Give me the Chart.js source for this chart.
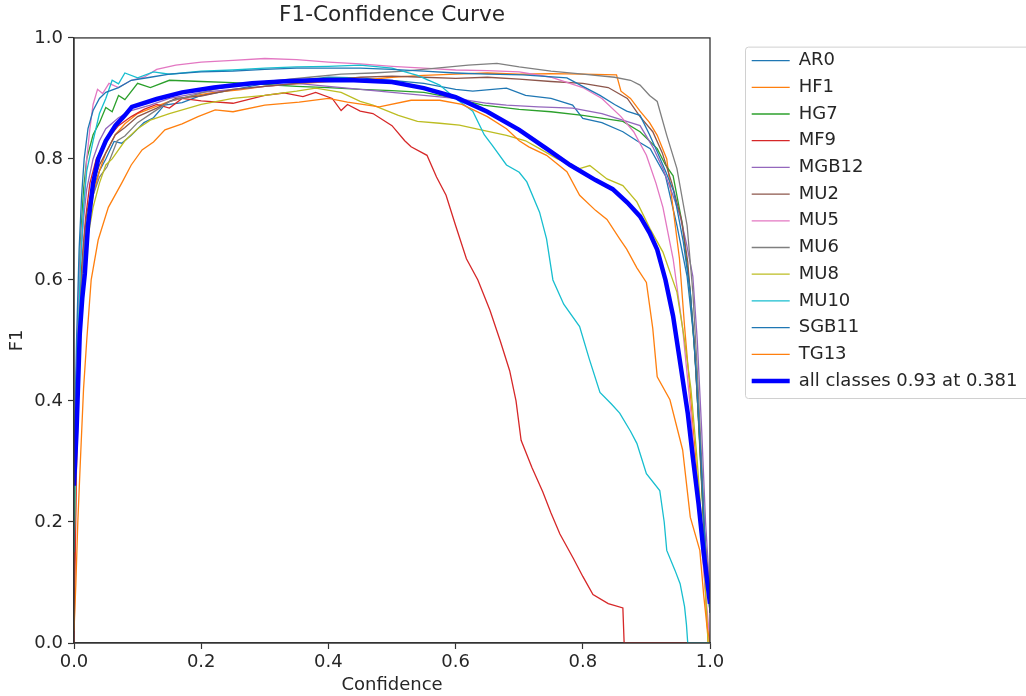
<!DOCTYPE html>
<html>
<head>
<meta charset="utf-8">
<script src="https://cdn.jsdelivr.net/npm/chart.js@4.4.1/dist/chart.umd.min.js"></script>
<style>
  html, body { margin: 0; padding: 0; background: #fff; }
</style>
</head>
<body>
<canvas id="chart" width="1026" height="696"></canvas>
<script>
// values, [confidence, f1]
const classNames = ['AR0', 'HF1', 'HG7', 'MF9', 'MGB12', 'MU2', 'MU5', 'MU6', 'MU8', 'MU10', 'SGB11', 'TG13'];
const allLabel = 'all classes 0.93 at 0.381';
const axisTicks = [0, 0.2, 0.4, 0.6, 0.8, 1.0];

const ar0 = [[0,0.25],[0.005,0.45],[0.01,0.57],[0.015,0.64],[0.02,0.69],[0.03,0.75],[0.04,0.78],[0.05,0.8],[0.063,0.829],[0.075,0.826],[0.09,0.839],[0.11,0.86],[0.125,0.868],[0.142,0.889],[0.17,0.893],[0.2,0.905],[0.25,0.914],[0.3,0.925],[0.35,0.93],[0.4,0.935],[0.45,0.934],[0.5,0.93],[0.55,0.925],[0.6,0.915],[0.627,0.912],[0.68,0.917],[0.71,0.905],[0.75,0.9],[0.784,0.889],[0.8,0.867],[0.83,0.86],[0.863,0.845],[0.885,0.83],[0.906,0.817],[0.93,0.772],[0.948,0.69],[0.964,0.606],[0.975,0.5],[0.983,0.35],[0.99,0.2],[1.0,0.06]];
const hf1 = [[0,0.1],[0.005,0.35],[0.01,0.5],[0.015,0.6],[0.02,0.67],[0.03,0.74],[0.04,0.78],[0.05,0.81],[0.065,0.84],[0.08,0.858],[0.1,0.875],[0.12,0.883],[0.15,0.895],[0.18,0.903],[0.22,0.91],[0.26,0.914],[0.3,0.92],[0.35,0.924],[0.4,0.928],[0.45,0.93],[0.5,0.935],[0.55,0.938],[0.6,0.94],[0.65,0.942],[0.7,0.94],[0.75,0.941],[0.8,0.94],[0.853,0.939],[0.86,0.912],[0.875,0.9],[0.89,0.879],[0.905,0.86],[0.917,0.839],[0.932,0.8],[0.942,0.718],[0.952,0.635],[0.96,0.523],[0.97,0.4],[0.978,0.3],[0.985,0.2],[0.992,0.1],[0.997,0.0],[1.0,0.0]];
const hg7 = [[0,0.2],[0.005,0.5],[0.01,0.66],[0.015,0.75],[0.02,0.8],[0.03,0.84],[0.04,0.86],[0.05,0.885],[0.06,0.878],[0.07,0.905],[0.08,0.898],[0.1,0.925],[0.12,0.918],[0.15,0.93],[0.2,0.928],[0.25,0.926],[0.3,0.923],[0.35,0.92],[0.4,0.918],[0.45,0.915],[0.5,0.913],[0.55,0.91],[0.6,0.9],[0.643,0.889],[0.7,0.882],[0.75,0.878],[0.8,0.872],[0.863,0.862],[0.89,0.845],[0.917,0.817],[0.93,0.79],[0.942,0.772],[0.957,0.69],[0.969,0.58],[0.978,0.45],[0.985,0.3],[0.992,0.15],[1.0,0.05]];
const mf9 = [[0,0.0],[0.004,0.3],[0.008,0.5],[0.012,0.62],[0.018,0.7],[0.025,0.76],[0.035,0.8],[0.05,0.83],[0.07,0.855],[0.09,0.87],[0.11,0.882],[0.13,0.89],[0.15,0.884],[0.17,0.9],[0.2,0.896],[0.25,0.892],[0.3,0.905],[0.33,0.909],[0.36,0.903],[0.38,0.91],[0.406,0.9],[0.42,0.88],[0.43,0.89],[0.45,0.879],[0.47,0.875],[0.5,0.855],[0.52,0.83],[0.53,0.82],[0.555,0.806],[0.57,0.77],[0.585,0.74],[0.6,0.69],[0.617,0.635],[0.635,0.6],[0.654,0.55],[0.67,0.5],[0.685,0.45],[0.695,0.4],[0.703,0.335],[0.72,0.29],[0.737,0.25],[0.75,0.215],[0.764,0.18],[0.785,0.14],[0.8,0.11],[0.816,0.08],[0.84,0.065],[0.863,0.058],[0.865,0.0],[1.0,0.0]];
const mgb12 = [[0,0.25],[0.005,0.5],[0.01,0.63],[0.015,0.7],[0.02,0.75],[0.03,0.8],[0.04,0.83],[0.05,0.85],[0.07,0.868],[0.09,0.88],[0.12,0.889],[0.15,0.9],[0.2,0.91],[0.25,0.915],[0.3,0.92],[0.35,0.925],[0.4,0.92],[0.45,0.915],[0.5,0.91],[0.55,0.905],[0.6,0.9],[0.65,0.892],[0.68,0.889],[0.73,0.886],[0.784,0.884],[0.83,0.875],[0.869,0.862],[0.89,0.855],[0.91,0.82],[0.926,0.784],[0.94,0.745],[0.953,0.706],[0.963,0.66],[0.973,0.606],[0.98,0.5],[0.987,0.35],[0.993,0.2],[1.0,0.08]];
const mu2 = [[0,0.22],[0.005,0.45],[0.01,0.58],[0.015,0.66],[0.02,0.71],[0.03,0.76],[0.04,0.79],[0.05,0.81],[0.065,0.84],[0.08,0.852],[0.1,0.87],[0.13,0.884],[0.16,0.9],[0.2,0.904],[0.25,0.915],[0.3,0.92],[0.35,0.925],[0.4,0.93],[0.45,0.935],[0.5,0.937],[0.55,0.935],[0.6,0.933],[0.65,0.935],[0.7,0.932],[0.75,0.928],[0.8,0.925],[0.84,0.918],[0.87,0.9],[0.89,0.87],[0.91,0.845],[0.925,0.81],[0.94,0.76],[0.955,0.7],[0.965,0.63],[0.975,0.5],[0.983,0.35],[0.99,0.2],[1.0,0.07]];
const mu5 = [[0,0.2],[0.004,0.45],[0.008,0.6],[0.012,0.68],[0.016,0.73],[0.02,0.8],[0.025,0.85],[0.03,0.89],[0.037,0.915],[0.045,0.908],[0.055,0.925],[0.07,0.918],[0.09,0.93],[0.11,0.935],[0.13,0.948],[0.16,0.955],[0.2,0.96],[0.25,0.963],[0.3,0.966],[0.35,0.964],[0.4,0.96],[0.45,0.957],[0.5,0.953],[0.55,0.95],[0.6,0.947],[0.65,0.946],[0.7,0.944],[0.75,0.935],[0.8,0.918],[0.83,0.9],[0.86,0.87],[0.88,0.845],[0.9,0.806],[0.915,0.76],[0.926,0.72],[0.942,0.635],[0.957,0.52],[0.97,0.38],[0.98,0.25],[0.99,0.12],[1.0,0.0]];
const mu6 = [[0,0.2],[0.005,0.42],[0.01,0.56],[0.015,0.64],[0.02,0.69],[0.03,0.74],[0.04,0.77],[0.052,0.787],[0.068,0.83],[0.08,0.838],[0.1,0.86],[0.12,0.874],[0.15,0.895],[0.18,0.903],[0.22,0.915],[0.27,0.925],[0.32,0.93],[0.37,0.935],[0.42,0.94],[0.47,0.942],[0.52,0.945],[0.57,0.95],[0.62,0.955],[0.665,0.958],[0.7,0.952],[0.75,0.945],[0.8,0.94],[0.85,0.935],[0.875,0.93],[0.89,0.922],[0.905,0.905],[0.917,0.895],[0.932,0.839],[0.948,0.784],[0.964,0.69],[0.973,0.58],[0.98,0.45],[0.987,0.3],[0.993,0.15],[1.0,0.05]];
const mu8 = [[0,0.15],[0.005,0.38],[0.01,0.52],[0.015,0.6],[0.02,0.66],[0.03,0.72],[0.04,0.76],[0.05,0.79],[0.06,0.8],[0.08,0.83],[0.1,0.85],[0.12,0.864],[0.15,0.875],[0.2,0.89],[0.25,0.9],[0.3,0.905],[0.35,0.912],[0.38,0.917],[0.42,0.91],[0.45,0.895],[0.47,0.889],[0.51,0.872],[0.54,0.862],[0.575,0.859],[0.606,0.856],[0.64,0.848],[0.68,0.839],[0.71,0.83],[0.732,0.817],[0.76,0.8],[0.795,0.784],[0.811,0.789],[0.838,0.767],[0.863,0.756],[0.885,0.729],[0.906,0.684],[0.926,0.646],[0.948,0.58],[0.96,0.5],[0.97,0.42],[0.98,0.3],[0.99,0.15],[0.997,0.0],[1.0,0.0]];
const mu10 = [[0,0.15],[0.005,0.45],[0.01,0.62],[0.015,0.72],[0.02,0.78],[0.03,0.83],[0.04,0.875],[0.05,0.9],[0.06,0.93],[0.07,0.924],[0.08,0.942],[0.1,0.934],[0.125,0.944],[0.15,0.94],[0.2,0.945],[0.25,0.947],[0.3,0.95],[0.35,0.952],[0.4,0.953],[0.45,0.955],[0.5,0.95],[0.54,0.938],[0.575,0.922],[0.6,0.9],[0.627,0.879],[0.645,0.84],[0.658,0.822],[0.68,0.79],[0.7,0.778],[0.712,0.762],[0.732,0.712],[0.743,0.668],[0.753,0.6],[0.77,0.56],[0.795,0.523],[0.81,0.47],[0.827,0.414],[0.845,0.395],[0.858,0.38],[0.875,0.35],[0.885,0.33],[0.9,0.28],[0.921,0.252],[0.928,0.2],[0.932,0.153],[0.945,0.12],[0.953,0.098],[0.96,0.06],[0.963,0.03],[0.965,0.0],[1.0,0.0]];
const sgb11 = [[0,0.3],[0.004,0.5],[0.008,0.65],[0.012,0.74],[0.016,0.8],[0.022,0.85],[0.03,0.88],[0.04,0.9],[0.05,0.91],[0.07,0.918],[0.09,0.93],[0.12,0.935],[0.15,0.94],[0.2,0.944],[0.25,0.945],[0.3,0.948],[0.35,0.95],[0.4,0.95],[0.45,0.95],[0.5,0.948],[0.55,0.945],[0.6,0.942],[0.65,0.94],[0.706,0.939],[0.775,0.934],[0.8,0.92],[0.827,0.905],[0.85,0.89],[0.869,0.879],[0.89,0.872],[0.905,0.84],[0.917,0.812],[0.93,0.78],[0.943,0.746],[0.958,0.663],[0.969,0.58],[0.978,0.45],[0.986,0.3],[0.993,0.15],[1.0,0.05]];
const tg13 = [[0,0.02],[0.003,0.1],[0.006,0.2],[0.01,0.3],[0.015,0.42],[0.02,0.5],[0.027,0.6],[0.038,0.666],[0.054,0.72],[0.075,0.76],[0.09,0.79],[0.107,0.815],[0.125,0.828],[0.143,0.848],[0.17,0.858],[0.195,0.87],[0.222,0.881],[0.25,0.878],[0.3,0.889],[0.354,0.894],[0.4,0.9],[0.43,0.894],[0.48,0.886],[0.53,0.897],[0.575,0.897],[0.61,0.89],[0.65,0.87],[0.68,0.85],[0.7,0.83],[0.715,0.82],[0.743,0.806],[0.775,0.779],[0.795,0.74],[0.82,0.715],[0.838,0.7],[0.858,0.668],[0.869,0.651],[0.885,0.62],[0.9,0.596],[0.91,0.52],[0.917,0.44],[0.937,0.402],[0.957,0.319],[0.969,0.208],[0.984,0.153],[0.99,0.08],[0.995,0.03],[1.0,0.0]];
const allClasses = [[0,0.26],[0.004,0.35],[0.009,0.51],[0.013,0.57],[0.017,0.61],[0.022,0.69],[0.03,0.76],[0.038,0.8],[0.05,0.83],[0.065,0.855],[0.08,0.872],[0.091,0.886],[0.13,0.899],[0.17,0.91],[0.22,0.918],[0.28,0.925],[0.34,0.929],[0.381,0.93],[0.44,0.93],[0.5,0.927],[0.55,0.917],[0.6,0.902],[0.65,0.878],[0.7,0.848],[0.743,0.817],[0.78,0.79],[0.82,0.765],[0.847,0.75],[0.87,0.728],[0.89,0.705],[0.905,0.678],[0.917,0.65],[0.93,0.6],[0.942,0.54],[0.955,0.45],[0.965,0.38],[0.973,0.307],[0.982,0.23],[0.99,0.15],[1.0,0.065]];

const classCurves = [ar0, hf1, hg7, mf9, mgb12, mu2, mu5, mu6, mu8, mu10, sgb11, tg13];
const classColors = ['#1f77b4', '#ff7f0e', '#2ca02c', '#d62728', '#9467bd', '#8c564b',
                     '#e377c2', '#7f7f7f', '#bcbd22', '#17becf', '#1f77b4', '#ff7f0e'];
const textColor = '#262626';
const frameColor = '#333333';

Chart.defaults.font.family = "'DejaVu Sans', sans-serif";
Chart.defaults.color = textColor;

const toPoints = pts => pts.map(([x, y]) => ({ x: x, y: y }));

const datasets = classCurves.map((pts, i) => ({
    label: classNames[i],
    data: toPoints(pts),
    borderColor: classColors[i],
    backgroundColor: classColors[i],
    borderWidth: 1.3,
    pointRadius: 0,
    order: classNames.length - i   // later classes on top, like matplotlib
}));
datasets.push({
    label: allLabel,
    data: toPoints(allClasses),
    borderColor: '#0000ff',
    backgroundColor: '#0000ff',
    borderWidth: 4.5,
    pointRadius: 0,
    order: 0
});

// box around the plot and the legend frame
const framePlugin = {
    id: 'frames',
    beforeDraw(chart) {
        const lg = chart.legend;
        if (!lg || !lg.legendHitBoxes || !lg.legendHitBoxes.length) return;
        const hb = lg.legendHitBoxes;
        const ctx = chart.ctx;
        const top = hb[0].top - 5;
        const bottom = hb[hb.length - 1].top + hb[hb.length - 1].height + 8;
        ctx.save();
        ctx.fillStyle = '#ffffff';
        ctx.strokeStyle = '#d0d0d0';
        ctx.lineWidth = 1;
        ctx.beginPath();
        ctx.roundRect(lg.left + 2.5, top + 0.5, 400, bottom - top, 3);
        ctx.fill();
        ctx.stroke();
        ctx.restore();
    },
    afterDatasetsDraw(chart) {
        const a = chart.chartArea;
        const ctx = chart.ctx;
        ctx.save();
        ctx.strokeStyle = frameColor;
        ctx.lineWidth = 1.3;
        ctx.strokeRect(a.left, a.top, a.right - a.left, a.bottom - a.top);
        ctx.restore();
    }
};

const tickOpts = {
    font: { size: 18 },
    color: textColor,
    callback: v => Number(v).toFixed(1)
};
const setTicks = scale => { scale.ticks = axisTicks.map(v => ({ value: v })); };

new Chart(document.getElementById('chart'), {
    type: 'scatter',
    data: { datasets: datasets },
    options: {
        responsive: false,
        animation: false,
        showLine: true,
        layout: { padding: 0 },
        elements: { line: { tension: 0 } },
        scales: {
            x: {
                type: 'linear', min: 0, max: 1,
                afterBuildTicks: setTicks,
                afterFit: s => { s.height = 53; },
                ticks: Object.assign({ padding: 3, maxRotation: 0 }, tickOpts),
                grid: { drawOnChartArea: false, tickLength: 6, tickColor: frameColor, tickWidth: 1.2 },
                border: { display: true, color: frameColor, width: 1.3 },
                title: { display: true, text: 'Confidence', font: { size: 18 }, color: textColor, padding: { top: 0, bottom: 0 } }
            },
            y: {
                type: 'linear', min: 0, max: 1,
                afterBuildTicks: setTicks,
                afterFit: s => { s.width = 74; },
                ticks: Object.assign({ padding: 5 }, tickOpts),
                grid: { drawOnChartArea: false, tickLength: 6, tickColor: frameColor, tickWidth: 1.2 },
                border: { display: true, color: frameColor, width: 1.3 },
                title: { display: true, text: 'F1', font: { size: 18 }, color: textColor, padding: { top: 7, bottom: 0 } }
            },
            // empty spacer between plot and legend
            gap: {
                type: 'linear', position: 'right', display: true,
                afterFit: s => { s.width = 33; },
                ticks: { display: false },
                grid: { display: false },
                border: { display: false }
            }
        },
        plugins: {
            title: {
                display: true,
                text: 'F1-Confidence Curve',
                fullSize: false,
                color: textColor,
                font: { size: 21.6, weight: 'normal' },
                padding: { top: 2, bottom: 10 }
            },
            legend: {
                position: 'right',
                align: 'start',
                fullSize: false,
                maxWidth: 283,
                title: { display: true, text: '', font: { size: 5, lineHeight: 1 }, padding: 0 },
                labels: {
                    usePointStyle: true,
                    pointStyle: 'line',
                    pointStyleWidth: 38,
                    padding: 8.7,
                    color: textColor,
                    font: { size: 18 },
                    sort: (a, b) => a.datasetIndex - b.datasetIndex
                }
            },
            tooltip: { enabled: false }
        }
    },
    plugins: [framePlugin]
});
</script>
</body>
</html>
